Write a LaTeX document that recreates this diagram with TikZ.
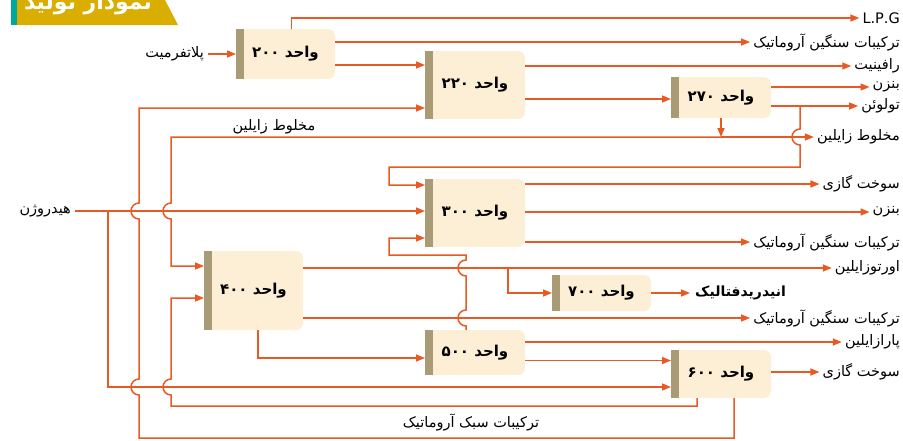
\documentclass[tikz,border=0pt]{standalone}
\usepackage{fontspec}
\usetikzlibrary{arrows.meta}
\TeXXeTstate=1
\newfontfamily\fa[Script=Arabic]{DejaVu Sans}
\definecolor{flowc}{HTML}{E85A23}
\definecolor{unitfill}{HTML}{FDEFD5}
\definecolor{unitbar}{HTML}{A99B76}
\definecolor{bannergold}{HTML}{D9AE00}
\definecolor{bannerteal}{HTML}{00A79D}

\begin{document}
\begin{tikzpicture}[x=1pt, y=-1pt,
    unit/.style={rectangle, rounded corners=7pt, fill=unitfill, outer sep=0pt, inner sep=0pt,
        font=\fa\bfseries\fontsize{15}{17}\selectfont},
    flow/.style={draw=flowc, line width=1.5pt, -{Triangle[length=9pt,width=7pt]}},
    product/.style={anchor=east, inner sep=3pt, font=\fa\fontsize{14.5}{17}\selectfont},
    feed/.style={inner sep=4pt, font=\fa\fontsize{14.5}{17}\selectfont}]
    \useasboundingbox (0,0) rectangle (903,440);
    \clip (0,0) rectangle (903,440);

    % Title banner
    \fill[bannergold] (17,0) -- (165,0) -- (178,25) -- (17,25) -- cycle;
    \fill[bannerteal] (11,0) rectangle (17,25);
    \node[text=white, font=\fa\bfseries\fontsize{22}{24}\selectfont] (title) at (88,4) {\beginR نمودار تولید\endR};

    % Units
    \node[unit, minimum width=99, minimum height=50] (u200) at (285.5,54) {\beginR واحد ۲۰۰\endR};
    \node[unit, minimum width=100, minimum height=68] (u220) at (475,85) {\beginR واحد ۲۲۰\endR};
    \node[unit, minimum width=100, minimum height=41] (u270) at (721,97.5) {\beginR واحد ۲۷۰\endR};
    \node[unit, minimum width=100, minimum height=68] (u300) at (475,213) {\beginR واحد ۳۰۰\endR};
    \node[unit, minimum width=99, minimum height=79] (u400) at (253.5,290.5) {\beginR واحد ۴۰۰\endR};
    \node[unit, minimum width=99, minimum height=36] (u700) at (601.5,293) {\beginR واحد ۷۰۰\endR};
    \node[unit, minimum width=100, minimum height=45] (u500) at (475,352.5) {\beginR واحد ۵۰۰\endR};
    \node[unit, minimum width=100, minimum height=48] (u600) at (721,374) {\beginR واحد ۶۰۰\endR};
    \foreach \u in {u200,u220,u270,u300,u400,u700,u500,u600}
        \fill[unitbar] (\u.south west) rectangle ([xshift=8pt]\u.north west);

    % Feeds
    \node[feed, anchor=east] (plat) at (208,54) {پلاتفرمیت};
    \node[feed, anchor=east] (h2) at (75,211) {هیدروژن};
    \node[feed] (xylB) at (274,127) {\beginR مخلوط زایلین\endR};
    \node[feed] (light) at (471,422) {\beginR ترکیبات سبک آروماتیک\endR};

    % Products
    \node[product] (lpg) at (903,18) {L.P.G};
    \node[product] (hvyA) at (903,42) {\beginR ترکیبات سنگین آروماتیک\endR};
    \node[product] (raf) at (903,66) {رافینیت};
    \node[product] (bzA) at (903,87) {بنزن};
    \node[product] (tol) at (903,106) {تولوئن};
    \node[product] (xylA) at (903,137) {\beginR مخلوط زایلین\endR};
    \node[product] (fgA) at (903,184) {\beginR سوخت گازی\endR};
    \node[product] (bzB) at (903,212) {بنزن};
    \node[product] (hvyB) at (903,242) {\beginR ترکیبات سنگین آروماتیک\endR};
    \node[product] (ox) at (903,268) {اورتوزایلین};
    \node[product] (hvyC) at (903,318) {\beginR ترکیبات سنگین آروماتیک\endR};
    \node[product] (px) at (903,342) {پارازایلین};
    \node[product] (fgB) at (903,372) {\beginR سوخت گازی\endR};
    \node[feed, anchor=west, inner sep=5pt, font=\fa\bfseries\fontsize{14}{16}\selectfont] (pa) at (690,293) {انیدریدفتالیک};

    % Branch points
    \coordinate (hb) at (108,211);
    \coordinate (tb) at (800,106);
    \coordinate (ob) at (508,268);

    % Unit 200
    \draw[flow] (plat) -- (u200);
    \draw[flow] ([xshift=6pt]u200.north) |- (lpg);
    \draw[flow] (u200.east |- hvyA) -- (hvyA);
    \draw[flow] ([yshift=-11pt]u200.east) -- ([yshift=-11pt]u200.east -| u220.west);

    % Unit 220
    \draw[flow] (u220.east |- raf) -- (raf);
    \draw[flow] ([yshift=-14pt]u220.east) -- ([yshift=-14pt]u220.east -| u270.west);

    % Unit 270
    \draw[flow] (u270.east |- bzA) -- (bzA);
    \draw[flow] (u270.east |- tol) -- (tol);
    \draw[flow] (u270.south) -- (u270.south |- xylA);
    \draw[flow] (u270.south |- xylA) -- (xylA);
    \draw[flow] (u270.south |- xylA) -- (171,137) -- (171,203)
        arc[start angle=90, end angle=270, radius=8pt] |- ([yshift=24.5pt]u400.west);
    \draw[flow] (tb) -- (800,129) arc[start angle=90, end angle=270, radius=8pt]
        -- (800,167) -| (389,185) -- ([yshift=28pt]u300.west);

    % Hydrogen
    \draw[flow] (h2) -- (h2 -| u300.west);
    \draw[flow] (hb) |- ([yshift=-13pt]u600.west);

    % Unit 300
    \draw[flow] (u300.east |- fgA) -- (fgA);
    \draw[flow] (u300.east |- bzB) -- (bzB);
    \draw[flow] (u300.east |- hvyB) -- (hvyB);

    % Unit 400
    \draw[flow] (u400.east |- ox) -- (ox);
    \draw[flow] (ob) |- (u700);
    \draw[flow] (u400.east |- hvyC) -- (hvyC);
    \draw[flow] ([xshift=4.5pt]u400.south) |- ([yshift=-5.5pt]u500.west);

    % Unit 700
    \draw[flow] (u700) -- (pa);

    % Unit 500
    \draw[flow] (u500.east |- px) -- (px);
    \draw[flow] ([yshift=-8pt]u500.east) -- ([yshift=-8pt]u500.east -| u600.west);
    \draw[flow] ([xshift=-9pt]u500.north) -- (466,326) arc[start angle=270, end angle=90, radius=8pt]
        -- (466,276) arc[start angle=270, end angle=90, radius=8pt]
        -- (466,255) -| (389,238) -- ([yshift=-25pt]u300.west);

    % Unit 600
    \draw[flow] (u600.east |- fgB) -- (fgB);
    \draw[flow] ([xshift=-24pt]u600.south) |- (171,406) -- (171,395)
        arc[start angle=270, end angle=90, radius=8pt] |- ([yshift=-7.5pt]u400.west);
    \draw[flow] ([xshift=13pt]u600.south) |- (139,438) -- (139,395)
        arc[start angle=270, end angle=90, radius=8pt] -- (139,219)
        arc[start angle=270, end angle=90, radius=8pt] |- ([yshift=-23pt]u220.west);

\end{tikzpicture}
\end{document}
